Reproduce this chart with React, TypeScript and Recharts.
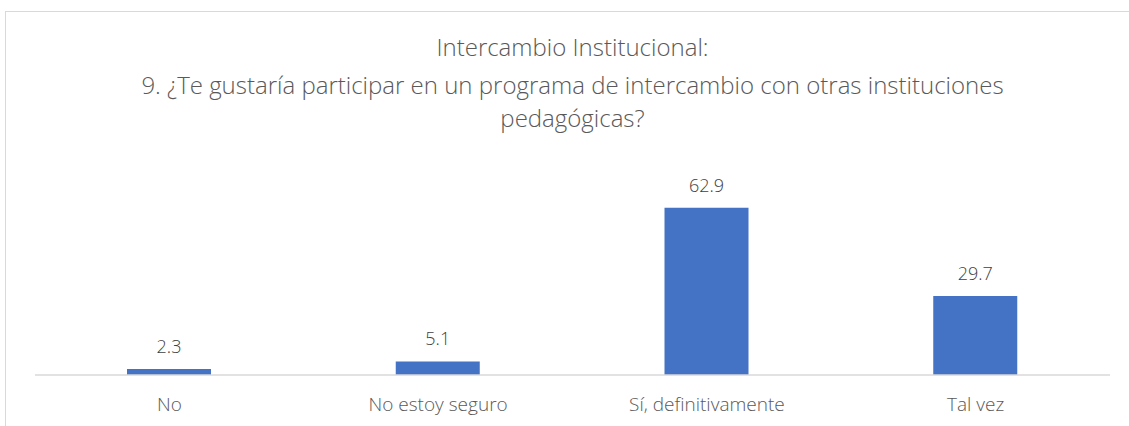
import React from "react";
import { BarChart, Bar, XAxis, YAxis, LabelList } from "recharts";

const categories = ["No", "No estoy seguro", "Sí, definitivamente", "Tal vez"];
const values = [2.3, 5.1, 62.9, 29.7];
const titleLines = [
  "Intercambio Institucional:",
  "9. ¿Te gustaría participar en un programa de intercambio con otras instituciones",
  "pedagógicas?",
];

const data = categories.map((c, i) => ({ name: c, value: values[i] }));
const FONT = "'Open Sans', 'Liberation Sans', sans-serif";

export default function App() {
  return (
    <div
      style={{
        position: "fixed",
        left: 0,
        top: 0,
        width: 1129,
        height: 426,
        overflow: "hidden",
        background: "#fff",
        fontFamily: FONT,
      }}
    >
      <div
        style={{
          position: "absolute",
          left: 5,
          top: 11,
          width: 1140,
          height: 440,
          border: "1px solid #d9d9d9",
          boxSizing: "border-box",
        }}
      />
      {titleLines.map((t, i) => (
        <div
          key={i}
          style={{
            position: "absolute",
            left: 0,
            width: 1145,
            top: [31, 69, 102][i],
            textAlign: "center",
            fontSize: 24,
            fontWeight: 300,
            lineHeight: "32px",
            color: "#595959",
            whiteSpace: "nowrap",
          }}
        >
          {t}
        </div>
      ))}
      <div style={{ position: "absolute", left: 0, top: 0 }}>
        <BarChart
          width={1129}
          height={426}
          data={data}
          margin={{ top: 189, right: 19, bottom: 21, left: 35 }}
        >
          <XAxis
            dataKey="name"
            axisLine={{ stroke: "#d9d9d9", strokeWidth: 1.5 }}
            tickLine={false}
            tick={{ fill: "#595959", fontSize: 19, fontWeight: 300, fontFamily: FONT }}
            tickMargin={17}
            height={30}
            interval={0}
          />
          <YAxis hide domain={[0, 70]} />
          <Bar dataKey="value" fill="#4472c4" barSize={84} isAnimationActive={false}>
            <LabelList
              dataKey="value"
              position="top"
              offset={16}
              fill="#404040"
              fontSize={18}
              fontWeight={300}
              fontFamily={FONT}
            />
          </Bar>
        </BarChart>
      </div>
    </div>
  );
}
